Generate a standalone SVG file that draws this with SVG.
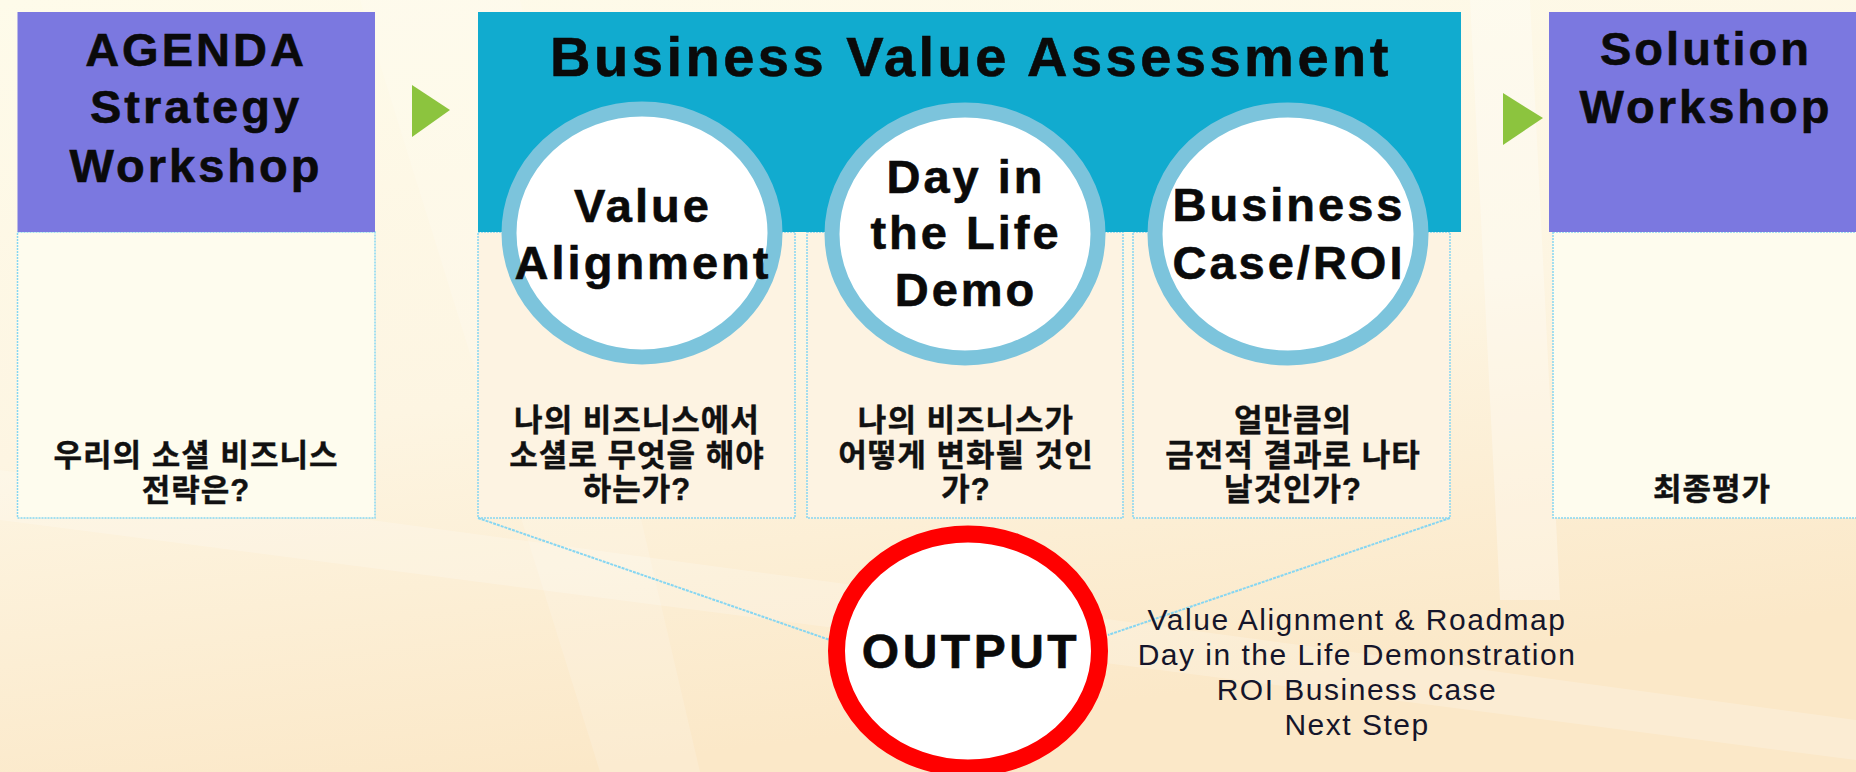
<svg xmlns="http://www.w3.org/2000/svg" width="1856" height="772" viewBox="0 0 1856 772">
<defs>
<linearGradient id="bg" x1="0" y1="0" x2="0.3" y2="1">
<stop offset="0" stop-color="#fefbea"/>
<stop offset="0.55" stop-color="#fdf5e2"/>
<stop offset="1" stop-color="#fbe8c8"/>
</linearGradient>
<style>
.hd{font-family:"Liberation Sans",Arial,sans-serif;font-weight:bold;font-size:47px;letter-spacing:3px;fill:#0a0a0a;stroke:#0a0a0a;stroke-width:0.6;text-anchor:middle}
.ttl{font-family:"Liberation Sans",Arial,sans-serif;font-weight:bold;font-size:56px;letter-spacing:3.5px;fill:#0a0a0a;stroke:#0a0a0a;stroke-width:0.6;text-anchor:middle}
.kr{font-family:"Liberation Sans","Noto Sans CJK KR",sans-serif;font-weight:bold;font-size:31px;letter-spacing:1px;fill:#111;stroke:#111;stroke-width:0.4;text-anchor:middle}
.lst{font-family:"Liberation Sans",Arial,sans-serif;font-size:30px;letter-spacing:1.5px;fill:#15152a;text-anchor:middle}
.purple{fill:#7b78e0}
.teal{fill:#11abcf}
.low{stroke:#86d6f2;stroke-width:1.5;stroke-dasharray:2 1}
.ring{fill:#ffffff;stroke:#7cc4dc;stroke-width:15}
.arrow{fill:#8cc43e}
.conn{stroke:#86d6f2;stroke-width:2;stroke-dasharray:3 1;fill:none}
</style>
</defs>
<rect width="1856" height="772" fill="url(#bg)"/>
<g fill="#ffffff">
<path d="M0 470 L1856 720 L1856 760 L0 520 Z" opacity="0.2"/>
<path d="M360 0 L520 0 L700 772 L600 772 Z" opacity="0.15"/>
<path d="M1470 0 L1530 0 L1560 600 L1500 600 Z" opacity="0.3"/>
</g>
<g id="arrows">
<polygon class="arrow" points="412,85 450,110 412,137"/>
<polygon class="arrow" points="1503,93 1543,118 1503,145"/>
</g>
<g id="agenda">
<rect x="17.5" y="232" width="357.5" height="286" fill="#fefcee" class="low"/>
<rect x="17.5" y="12" width="357.5" height="220" class="purple"/>
<text class="hd" x="196" y="66">AGENDA</text>
<text class="hd" x="196" y="123">Strategy</text>
<text class="hd" x="196" y="182">Workshop</text>
<text class="kr" x="196" y="466">우리의 소셜 비즈니스</text>
<text class="kr" x="196" y="501">전략은?</text>
</g>
<g id="bva">
<rect x="478" y="232" width="317" height="286" fill="#fdf3e2" class="low"/>
<rect x="807" y="232" width="316" height="286" fill="#fdf3e2" class="low"/>
<rect x="1133" y="232" width="317" height="286" fill="#fdf3e2" class="low"/>
<rect x="478" y="12" width="983" height="220" class="teal"/>
<text class="ttl" x="971" y="76">Business Value Assessment</text>
</g>
<g id="value-alignment">
<ellipse class="ring" cx="642" cy="233" rx="133" ry="124"/>
<text class="hd" x="643" y="222">Value</text>
<text class="hd" x="643" y="279">Alignment</text>
<text class="kr" x="637" y="431">나의 비즈니스에서</text>
<text class="kr" x="637" y="466">소셜로 무엇을 해야</text>
<text class="kr" x="637" y="500">하는가?</text>
</g>
<g id="day-in-the-life">
<ellipse class="ring" cx="965" cy="234" rx="133" ry="124"/>
<text class="hd" x="966" y="193">Day in</text>
<text class="hd" x="966" y="249">the Life</text>
<text class="hd" x="966" y="306">Demo</text>
<text class="kr" x="966" y="431">나의 비즈니스가</text>
<text class="kr" x="966" y="466">어떻게 변화될 것인</text>
<text class="kr" x="966" y="500">가?</text>
</g>
<g id="business-case">
<ellipse class="ring" cx="1288" cy="234" rx="133" ry="124"/>
<text class="hd" x="1289" y="221">Business</text>
<text class="hd" x="1289" y="279">Case/ROI</text>
<text class="kr" x="1293" y="431">얼만큼의</text>
<text class="kr" x="1293" y="466">금전적 결과로 나타</text>
<text class="kr" x="1293" y="500">날것인가?</text>
</g>
<g id="solution">
<rect x="1553" y="232" width="330" height="286" fill="#fefcee" class="low"/>
<rect x="1549" y="12" width="330" height="220" class="purple"/>
<text class="hd" x="1706" y="65">Solution</text>
<text class="hd" x="1706" y="123">Workshop</text>
<text class="kr" x="1712" y="500">최종평가</text>
</g>
<g id="connectors">
<line class="conn" x1="478" y1="518" x2="830" y2="640"/>
<line class="conn" x1="1450" y1="518" x2="1108" y2="635"/>
</g>
<g id="output">
<ellipse cx="968" cy="651" rx="131.5" ry="117" fill="#ffffff" stroke="#ff0000" stroke-width="17"/>
<text x="971" y="668" font-family="Liberation Sans, Arial, sans-serif" font-weight="bold" font-size="48" letter-spacing="3.5" fill="#0a0a0a" stroke="#0a0a0a" stroke-width="0.6" text-anchor="middle">OUTPUT</text>
</g>
<g id="output-list">
<text class="lst" x="1357" y="630">Value Alignment &amp; Roadmap</text>
<text class="lst" x="1357" y="665">Day in the Life Demonstration</text>
<text class="lst" x="1357" y="700">ROI Business case</text>
<text class="lst" x="1357" y="735">Next Step</text>
</g>
</svg>
